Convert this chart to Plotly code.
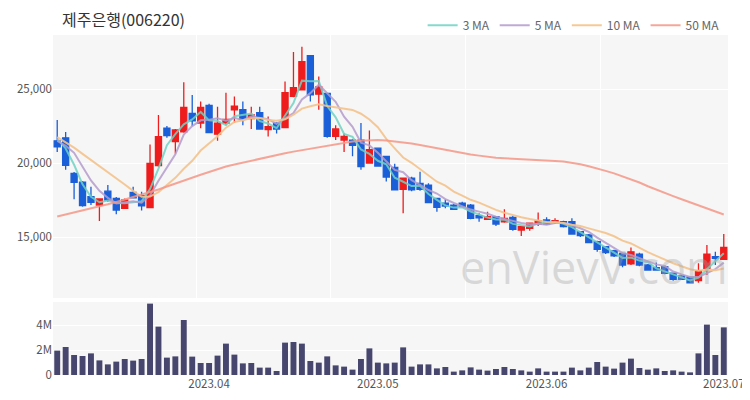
import pandas as pd
import plotly.graph_objects as go

# ---------------- data ----------------
holidays = ["2023-05-01", "2023-05-05", "2023-05-29", "2023-06-06"]
dates = pd.bdate_range("2023-03-08", "2023-07-03", freq="C", holidays=holidays)

open_ = [21500, 21700, 19300, 18700, 17720, 17160, 18100, 17610, 16940, 18020,
         17800, 16980, 19820, 22350, 21440, 22100, 23350, 22700, 23900, 21950,
         22700, 23600, 23600, 23000, 23400, 22250, 22700, 22400, 24500, 24950,
         27250, 24650, 24700, 21800, 21550, 21550, 21550, 20000, 21000, 20450,
         19700, 18220, 18970, 18630, 18510, 17610, 17280, 17160, 17280, 17160,
         16440, 16200, 16370, 16030, 16330, 15470, 15590, 15880, 16150, 15970,
         16030, 16030, 15360, 15140, 14680, 14350, 14080, 13900, 13180, 13850,
         13110, 12930, 13000, 12550, 12370, 12280, 12050, 12880, 13670, 13490]
high = [22900, 22100, 19400, 18780, 18400, 17600, 18510, 17700, 17610, 18400,
        18060, 21250, 23250, 22500, 22300, 25450, 24600, 24150, 24000, 23800,
        24750, 24500, 24150, 23800, 23800, 23150, 22750, 25500, 27500, 27850,
        27250, 25850, 24700, 22550, 22000, 21600, 22700, 22200, 21000, 20450,
        19950, 18970, 19080, 19410, 18630, 17610, 17540, 17230, 17390, 17230,
        16600, 16700, 16370, 16870, 16440, 15750, 15930, 16650, 16330, 16260,
        16100, 16260, 15360, 15200, 14750, 14400, 14140, 13940, 14300, 13940,
        13180, 13270, 13060, 12590, 12430, 12280, 13220, 14460, 14000, 15200]
low = [20750, 19550, 17550, 17050, 17160, 16080, 17390, 16530, 16900, 17610,
       16800, 16980, 19750, 21700, 20650, 22050, 22500, 22350, 22050, 21500,
       22550, 22700, 22550, 22300, 22300, 21800, 22000, 22400, 24450, 24950,
       24150, 23600, 21700, 21550, 20750, 20450, 19550, 19950, 19750, 18750,
       18180, 16600, 18100, 18130, 17280, 16710, 16940, 16870, 17000, 16200,
       16030, 16200, 15750, 15960, 15430, 15070, 15430, 15750, 15810, 15880,
       15650, 15200, 15000, 14580, 14000, 13850, 13650, 12950, 13110, 13020,
       12770, 12770, 12480, 12050, 12100, 11870, 11910, 12430, 13110, 13450]
close = [21100, 19850, 18700, 17120, 17350, 17570, 17500, 16820, 17500, 17650,
         17100, 19980, 21780, 21850, 22230, 23750, 22850, 23750, 22050, 22700,
         22950, 23850, 22950, 23250, 22300, 22450, 22300, 24750, 25100, 26850,
         24600, 25150, 21800, 22300, 21800, 21200, 19750, 20900, 19800, 19050,
         18180, 18970, 18180, 18220, 17320, 17000, 17090, 16870, 17050, 16260,
         16300, 16370, 15880, 16260, 15520, 15700, 15930, 16100, 15880, 16100,
         15700, 15200, 15090, 14620, 14170, 13940, 13720, 13110, 14000, 13110,
         12770, 12770, 12550, 12140, 12140, 11910, 12720, 13850, 13560, 14300]
# closes of the 9 sessions before the window (estimated from where the MA lines start)
prior_close = [23300, 22400, 21300, 21400, 21600, 21500, 21100, 21800, 22000]

volume = [1.95, 2.24, 1.60, 1.52, 1.73, 1.17, 0.85, 1.07, 1.28, 1.15,
          1.28, 5.71, 3.87, 1.39, 1.49, 4.40, 1.47, 0.96, 0.96, 1.55,
          2.51, 1.63, 0.93, 0.96, 0.59, 0.59, 0.32, 2.59, 2.64, 2.51,
          1.12, 0.99, 1.49, 0.77, 0.67, 0.43, 1.28, 2.13, 0.99, 0.93,
          0.99, 2.21, 0.67, 0.85, 0.85, 0.53, 0.64, 0.27, 0.37, 0.61,
          0.43, 0.35, 0.48, 0.64, 0.48, 0.37, 0.27, 0.53, 0.27, 0.27,
          0.27, 0.59, 0.37, 0.59, 1.04, 0.67, 0.51, 0.99, 1.31, 0.56,
          0.43, 0.53, 0.32, 0.37, 0.27, 0.21, 1.73, 4.03, 1.60, 3.81]  # millions

# 50-day MA (needs history older than the window)
ma50 = [16390, 16520, 16650, 16780, 16910, 17050, 17210, 17370, 17530, 17690,
        17850, 18010, 18210, 18410, 18620, 18820, 19020, 19210, 19390, 19580,
        19760, 19900, 20030, 20170, 20300, 20430, 20550, 20660, 20770, 20870,
        20970, 21070, 21180, 21280, 21370, 21450, 21510, 21550, 21550, 21520,
        21470, 21400, 21320, 21220, 21110, 20990, 20880, 20770, 20670, 20580,
        20500, 20420, 20360, 20320, 20280, 20250, 20220, 20190, 20160, 20130,
        20100, 20030, 19920, 19780, 19640, 19470, 19300, 19110, 18900, 18680,
        18430, 18190, 17970, 17760, 17550, 17340, 17130, 16930, 16720, 16520]

month_ticks = ["2023-04-03", "2023-05-02", "2023-06-01", "2023-07-03"]
month_labels = ["2023.04", "2023.05", "2023.06", "2023.07"]

title_text = "제주은행(006220)"

# ---------------- derived ----------------
all_close = pd.Series(prior_close + close)
n_prior = len(prior_close)
ma3 = all_close.rolling(3).mean().iloc[n_prior:].tolist()
ma5 = all_close.rolling(5).mean().iloc[n_prior:].tolist()
ma10 = all_close.rolling(10).mean().iloc[n_prior:].tolist()
vol_abs = [v * 1e6 for v in volume]

FONT = "Noto Sans CJK KR"
RED = "#ee1c1c"
BLUE = "#1a5fd8"

fig = go.Figure()
fig.add_trace(go.Candlestick(
    x=dates, open=open_, high=high, low=low, close=close,
    increasing=dict(line=dict(color=RED, width=1.3), fillcolor=RED),
    decreasing=dict(line=dict(color=BLUE, width=1.3), fillcolor=BLUE),
    whiskerwidth=0, showlegend=False, xaxis="x", yaxis="y"))

ma_specs = [("3 MA", ma3, "rgba(110,210,195,0.85)"),
            ("5 MA", ma5, "rgba(180,155,205,0.85)"),
            ("10 MA", ma10, "rgba(244,195,140,0.9)"),
            ("50 MA", ma50, "rgba(244,150,135,0.85)")]
for name, vals, col in ma_specs:
    fig.add_trace(go.Scatter(x=dates, y=vals, mode="lines", name=name,
                             line=dict(color=col, width=2), xaxis="x", yaxis="y"))

fig.add_trace(go.Bar(x=dates, y=vol_abs, marker=dict(color="#46466e", line=dict(width=0)),
                     showlegend=False, xaxis="x2", yaxis="y2"))

rb = [dict(bounds=["sat", "mon"]), dict(values=holidays)]
xr = [pd.Timestamp("2023-03-07 12:00"), pd.Timestamp("2023-07-03 12:00")]
grid_dates = ["2023-03-30 12:00", "2023-04-21 10:00", "2023-05-17 08:00", "2023-06-12 08:00"]

fig.update_layout(
    width=750, height=400,
    margin=dict(l=45, r=30, t=27, b=33, autoexpand=False),
    paper_bgcolor="white", plot_bgcolor="#f6f6f6",
    font=dict(family=FONT, size=11, color="#555"),
    title=dict(text=title_text, x=54/750, xanchor="left", y=0.97, yanchor="middle",
               yref="container", font=dict(family=FONT, size=16, color="#333")),
    legend=dict(orientation="h", x=0.995, xanchor="right", y=0.957, yanchor="middle",
                yref="container", tracegroupgap=0,
                font=dict(family=FONT, size=12, color="#666"), bgcolor="rgba(0,0,0,0)",
                itemwidth=30),
    bargap=0.3,
    boxgap=0.28, boxgroupgap=0,
    xaxis=dict(domain=[0, 1], anchor="y", range=xr, rangebreaks=rb,
               rangeslider=dict(visible=False), showticklabels=False,
               tickmode="array", tickvals=grid_dates, showgrid=True,
               gridcolor="white", gridwidth=1, zeroline=False, showline=False),
    yaxis=dict(domain=[0.2265, 1], range=[10880, 28650], tickmode="array",
               tickvals=[15000, 20000, 25000], tickformat=",", showgrid=True,
               gridcolor="white", gridwidth=1, zeroline=False, automargin=False,
               tickfont=dict(size=11.5, color="#555")),
    xaxis2=dict(domain=[0, 1], anchor="y2", range=xr, rangebreaks=rb,
                tickmode="array", tickvals=month_ticks, ticktext=month_labels,
                showgrid=False, zeroline=False, showline=False, ticks="",
                automargin=False, tickfont=dict(size=11.5, color="#555")),
    yaxis2=dict(domain=[0, 0.2147], range=[0, 5.84e6], tickmode="array",
                tickvals=[0, 2e6, 4e6], ticktext=["0", "2M", "4M"], showgrid=True,
                gridcolor="white", gridwidth=1, zeroline=False, automargin=False,
                tickfont=dict(size=11.5, color="#555")),
    annotations=[dict(text="enVievV.com", xref="paper", yref="paper",
                      x=0.802, y=0.32, xanchor="center", yanchor="middle",
                      showarrow=False,
                      font=dict(family="Open Sans", size=45, color="rgba(165,165,165,0.38)"))],
)

fig.write_html("out.html")
